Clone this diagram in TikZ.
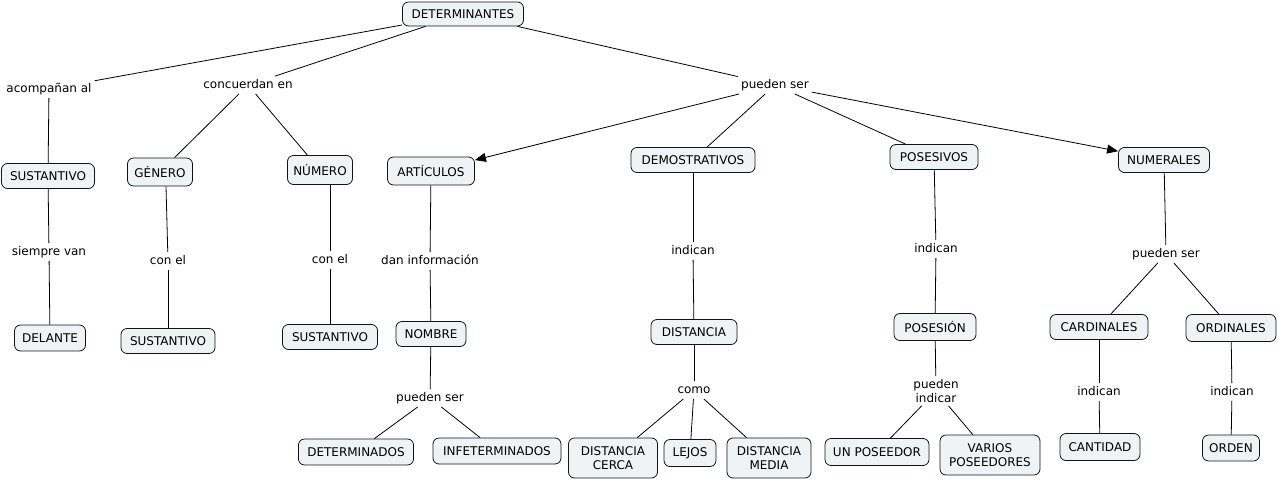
\documentclass[tikz,border=0pt]{standalone}
\usepackage{fontspec}
\setmainfont{DejaVu Sans}
\usetikzlibrary{arrows.meta}
\definecolor{boxfill}{RGB}{238,243,245}
\definecolor{boxline}{RGB}{20,20,20}
\begin{document}
\begin{tikzpicture}[x=1pt,y=-1pt,
  font=\fontsize{12}{14}\selectfont,
  concept/.style={draw=boxline, line width=0.8pt, rounded corners=6pt, fill=boxfill, inner sep=2pt, align=center},
  linkword/.style={inner sep=3pt, align=center, text height=9pt, text depth=2.5pt},
  conn/.style={draw=black, line width=0.8pt},
  arr/.style={conn, -{Triangle[length=11pt,width=9pt]}}
]
\useasboundingbox (0,0) rectangle (1278,480);
% concepts
\node[concept, minimum width=121pt, minimum height=24pt] (det) at (463,14) {DETERMINANTES};
\node[concept, minimum width=93pt, minimum height=25pt] (sust1) at (48,176) {SUSTANTIVO};
\node[concept, minimum width=65pt, minimum height=28pt] (gen) at (160,172) {GÉNERO};
\node[concept, minimum width=65pt, minimum height=29pt] (num) at (320,170) {NÚMERO};
\node[concept, minimum width=87pt, minimum height=28pt] (art) at (431,171) {ARTÍCULOS};
\node[concept, minimum width=124pt, minimum height=25pt] (dem) at (693,160) {DEMOSTRATIVOS};
\node[concept, minimum width=88pt, minimum height=25pt] (pos) at (934,157) {POSESIVOS};
\node[concept, minimum width=91pt, minimum height=25pt] (nums) at (1164,160) {NUMERALES};
\node[concept, minimum width=71pt, minimum height=26pt] (del) at (50,338) {DELANTE};
\node[concept, minimum width=94pt, minimum height=25pt] (sust2) at (168,341) {SUSTANTIVO};
\node[concept, minimum width=95pt, minimum height=25pt] (sust3) at (330,337) {SUSTANTIVO};
\node[concept, minimum width=70pt, minimum height=25pt] (nom) at (431,334) {NOMBRE};
\node[concept, minimum width=86pt, minimum height=25pt] (dist) at (694,332) {DISTANCIA};
\node[concept, minimum width=82pt, minimum height=27pt] (pose) at (935,327) {POSESIÓN};
\node[concept, minimum width=98pt, minimum height=25pt] (card) at (1099,327) {CARDINALES};
\node[concept, minimum width=90pt, minimum height=27pt] (ord) at (1231,328) {ORDINALES};
\node[concept, minimum width=115pt, minimum height=26pt] (detd) at (356,452) {DETERMINADOS};
\node[concept, minimum width=128pt, minimum height=26pt] (indet) at (497,451) {INFETERMINADOS};
\node[concept, minimum width=89pt, minimum height=40pt] (cerca) at (613,458) {DISTANCIA\\CERCA};
\node[concept, minimum width=52pt, minimum height=27pt] (lejos) at (690,453) {LEJOS};
\node[concept, minimum width=84pt, minimum height=40pt] (media) at (769,458) {DISTANCIA\\MEDIA};
\node[concept, minimum width=104pt, minimum height=27pt] (unpos) at (877,452) {UN POSEEDOR};
\node[concept, minimum width=100pt, minimum height=40pt] (varios) at (990,455) {VARIOS\\POSEEDORES};
\node[concept, minimum width=80pt, minimum height=27pt] (cant) at (1100,447) {CANTIDAD};
\node[concept, minimum width=57pt, minimum height=26pt] (orden) at (1231,448) {ORDEN};
% linking phrases
\node[linkword] (l1) at (49,89) {acompañan al};
\node[linkword] (l2) at (248,85) {concuerdan en};
\node[linkword] (l3) at (775,85) {pueden ser};
\node[linkword] (l4) at (49,252) {siempre van};
\node[linkword] (l5) at (168,261) {con el};
\node[linkword] (l6) at (330,260) {con el};
\node[linkword] (l7) at (430,261) {dan información};
\node[linkword] (l8) at (693,251) {indican};
\node[linkword] (l9) at (936,249) {indican};
\node[linkword] (l10) at (1166,254) {pueden ser};
\node[linkword] (l11) at (430,398) {pueden ser};
\node[linkword] (l12) at (694,390) {como};
\node[linkword, text height=, text depth=] (l13) at (936,391) {pueden\\indicar};
\node[linkword] (l14) at (1099,392) {indican};
\node[linkword] (l15) at (1232,392) {indican};
% connectors
\draw[conn] (det) -- (l1);
\draw[conn] (det) -- (l2);
\draw[conn] (det) -- (l3);
\draw[conn] (l1) -- (sust1);
\draw[conn] (sust1) -- (l4);
\draw[conn] (l4) -- (del);
\draw[conn] (l2) -- (gen);
\draw[conn] (l2) -- (num);
\draw[conn] ([xshift=6pt]gen.south) -- (l5);
\draw[conn] (l5) -- (sust2);
\draw[conn] (l6 |- num.south) -- (l6);
\draw[conn] (l6) -- (sust3);
\draw[arr] (l3) -- (art);
\draw[conn] (l3) -- (dem);
\draw[conn] (l3) -- (pos);
\draw[arr] (l3) -- (nums);
\draw[conn] (art) -- (l7);
\draw[conn] (l7) -- (nom);
\draw[conn] (nom) -- (l11);
\draw[conn] (l11) -- (detd);
\draw[conn] (l11) -- (indet);
\draw[conn] (dem) -- (l8);
\draw[conn] (l8) -- (dist);
\draw[conn] (dist) -- (l12);
\draw[conn] (l12) -- (cerca);
\draw[conn] (l12) -- (lejos);
\draw[conn] (l12) -- (media);
\draw[conn] (pos) -- (l9);
\draw[conn] (l9) -- (pose);
\draw[conn] (pose) -- (l13);
\draw[conn] (l13) -- (unpos);
\draw[conn] (l13) -- (varios);
\draw[conn] (nums) -- (l10);
\draw[conn] (l10) -- (card);
\draw[conn] (l10) -- (ord);
\draw[conn] (card) -- (l14);
\draw[conn] (l14) -- (cant);
\draw[conn] (ord) -- (l15);
\draw[conn] (l15) -- (orden);
\end{tikzpicture}
\end{document}
